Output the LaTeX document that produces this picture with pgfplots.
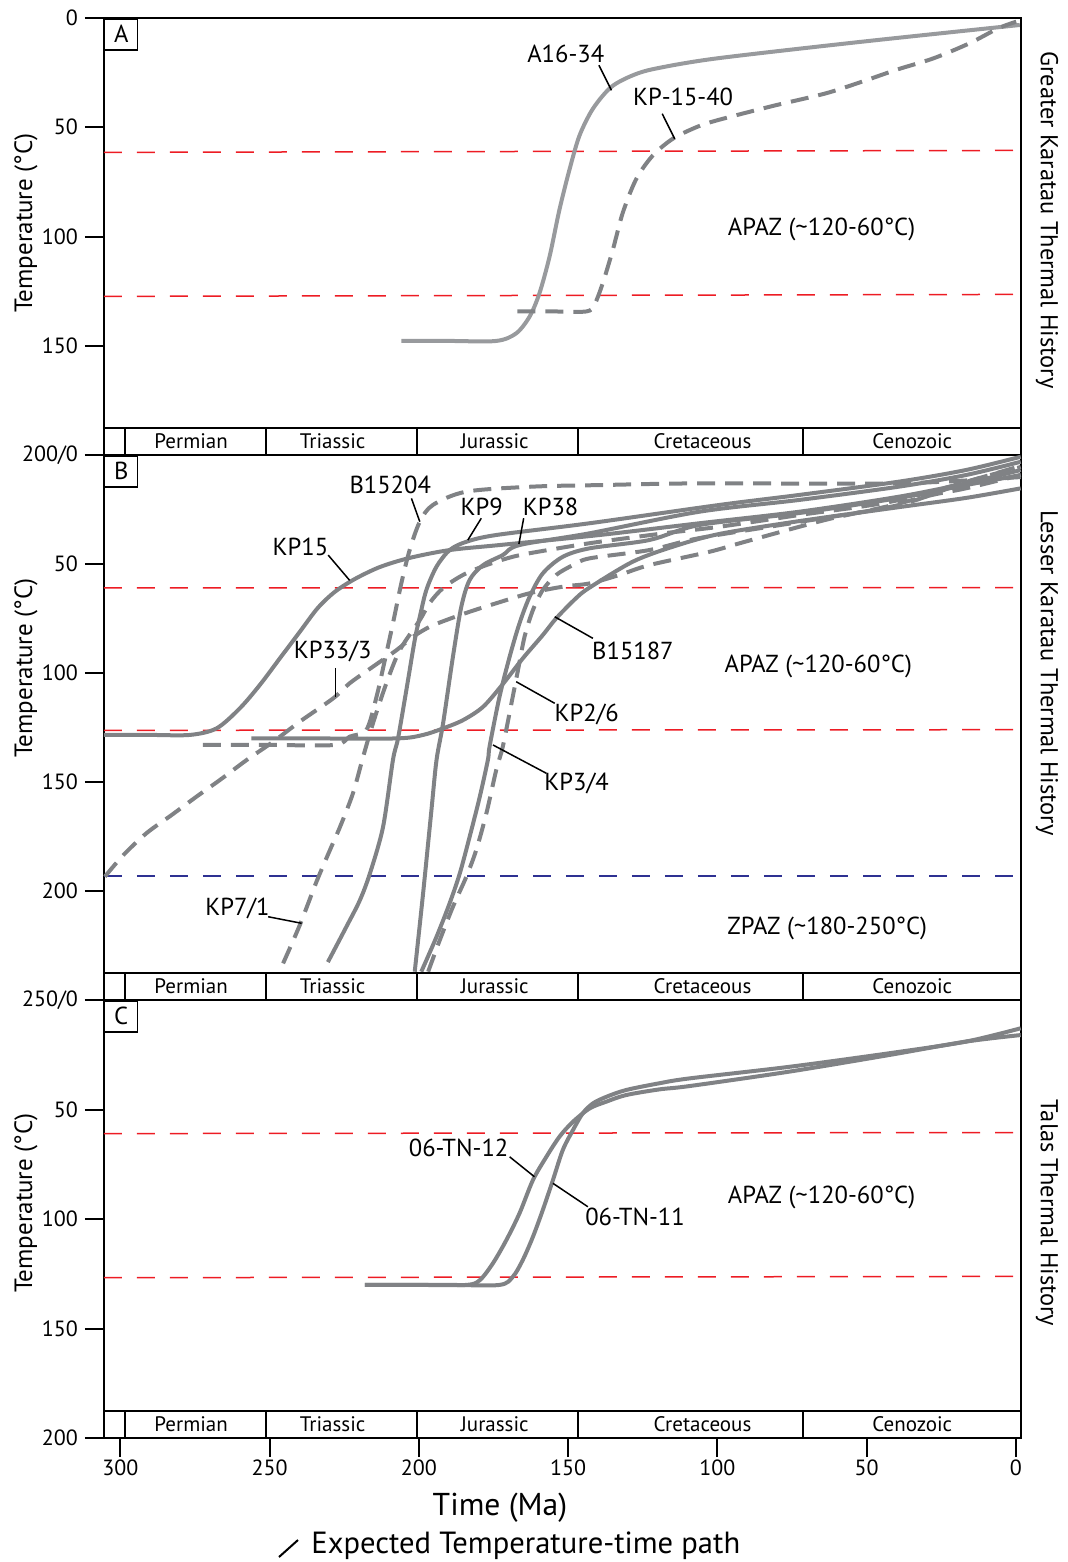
\documentclass[border=0pt]{standalone}
\usepackage{fontspec}
\setmainfont{PT Sans}
\usepackage{pgfplots}
\pgfplotsset{compat=1.18}

\definecolor{cgray}{RGB}{128,130,133}
\definecolor{cgrayl}{RGB}{152,154,157}
\definecolor{cred}{RGB}{237,28,36}
\definecolor{cblue}{RGB}{46,49,146}

\newcommand\lbl{\fontsize{12.3}{14}\selectfont}
\newcommand\per{\fontsize{10.5}{12}\selectfont}
\newcommand\side{\fontsize{12.2}{14}\selectfont}

\pgfplotsset{
 panel/.style={
   scale only axis, width=458.5pt, anchor=north west,
   x dir=reverse, y dir=reverse,
   xmin=-1.7, xmax=305.5,
   axis line style={line width=1pt},
   clip=false,
   tick align=outside, tick pos=left,
   major tick length=9.5pt,
   tick style={black, line width=1pt},
   ticklabel style={font=\fontsize{11}{13}\selectfont},
   xticklabel style={yshift=2pt},
   /pgf/number format/assume math mode=true,
   xtick=\empty,
 },
}
\tikzset{
 solidc/.style={cgray, line width=2pt, smooth, tension=0.5},
 dashc/.style={cgray, line width=2pt, smooth, tension=0.5, dash pattern=on 9pt off 5pt},
 redl/.style={cred, line width=0.75pt, dash pattern=on 9pt off 7.5pt},
 bluel/.style={cblue, line width=0.75pt, dash pattern=on 9pt off 7.5pt},
 leader/.style={black, line width=0.75pt},
 pbox/.style={draw, line width=0.75pt, anchor=north west, minimum width=16.5pt, minimum height=15.5pt, inner sep=0pt, font=\lbl},
}

\newcommand\band[2]{%
\draw[line width=1pt] (axis cs:305.5,#1) -- (axis cs:-1.7,#1);
\draw[line width=1pt] (axis cs:298.6,#1) -- (axis cs:298.6,#2);
\draw[line width=1pt] (axis cs:251.1,#1) -- (axis cs:251.1,#2);
\draw[line width=1pt] (axis cs:200.7,#1) -- (axis cs:200.7,#2);
\draw[line width=1pt] (axis cs:146.6,#1) -- (axis cs:146.6,#2);
\draw[line width=1pt] (axis cs:71.3,#1) -- (axis cs:71.3,#2);
}

\begin{document}
\begin{tikzpicture}
\useasboundingbox (-52pt,9pt) rectangle (481.5pt,-772pt);

%================ PANEL A =================
\begin{axis}[panel, at={(0pt,0pt)}, height=218.5pt, ymin=0, ymax=200,
  ytick={0,50,100,150,200}, yticklabels={0,50,100,150,200/0}]
\addplot[redl, no marks] coordinates {(305.5,61.5) (-1.7,60.6)};
\addplot[redl, no marks] coordinates {(305.5,127.4) (-1.7,126.5)};
% A16-34
\addplot[solidc, cgrayl, no marks] coordinates {(205.9,147.8)(190,147.8)(174.1,147.8)(167.4,144.3)(162.9,136.6)(159.6,125.9)(156.2,109.0)(152.9,87.6)(149.5,69.1)(146.2,53.8)(141.7,41.5)(135.6,31.6)(128.3,26.2)(120.5,23.1)(100.3,18.5)(51.9,10.9)(-1.3,3.2)};
% KP-15-40
\addplot[dashc, no marks] coordinates {(167.0,134.3)(155,134.3)(143.9,134.3)(141.2,131.2)(138.4,121.3)(135.0,105.9)(131.7,89.1)(127.2,73.7)(121.7,63.0)(115.0,55.3)(107.1,50.0)(100.3,46.9)(82.2,40.5)(64.0,34.6)(51.9,29.3)(39.8,23.6)(27.7,18.5)(15.6,11.6)(5.9,4.7)(-0.1,1.7)};
\band{187.6}{200}
\node[font=\per] at (axis cs:276.3,193.8) {Permian};
\node[font=\per] at (axis cs:228.9,193.8) {Triassic};
\node[font=\per] at (axis cs:174.6,193.8) {Jurassic};
\node[font=\per] at (axis cs:105.0,193.8) {Cretaceous};
\node[font=\per] at (axis cs:34.7,193.8) {Cenozoic};
\node[pbox] at (axis cs:305.5,0) {A};
% labels
\node[font=\lbl] at (axis cs:150.8,16.6) {A16-34};
\draw[leader] (axis cs:139.7,21.6) -- (axis cs:135.5,33.1);
\node[font=\lbl] at (axis cs:111.5,36.3) {KP-15-40};
\draw[leader] (axis cs:118.5,43.8) -- (axis cs:114.3,55.3);
\node[font=\lbl] at (axis cs:65.1,96.6) {APAZ (\textasciitilde120-60°C)};
\end{axis}

%================ PANEL B =================
\begin{axis}[panel, at={(0pt,-218.5pt)}, height=272.5pt, ymin=0, ymax=250,
  ytick={0,50,100,150,200,250}, yticklabels={,50,100,150,200,250/0}]
\addplot[redl, no marks] coordinates {(305.5,61.0) (-1.7,60.8)};
\addplot[redl, no marks] coordinates {(305.5,126.3) (-1.7,126.0)};
\addplot[bluel, no marks] coordinates {(305.5,193.1) (-1.7,193.1)};
% KP15
\addplot[solidc, no marks] coordinates {(305.5,128.4)(290,128.4)(276.7,128.4)(267.8,125.4)(260.0,116.2)(253.3,105.5)(246.6,93.3)(239.9,81.1)(233.9,70.2)(228.2,62.8)(221.5,56.9)(213.1,51.4)(203.1,47.2)(189.7,43.6)(173.0,41.3)(139.5,36.7)(106.0,31.3)(72.5,26.0)(39.1,19.1)(16.8,13.0)(-1.6,6.9)};
% KP9
\addplot[solidc, no marks] coordinates {(230.5,232.6)(224.3,216.4)(219.8,204.3)(216.4,191.9)(212.0,170.5)(208.7,139.9)(207.0,130.0)(204.2,107.8)(201.4,84.9)(199.7,74.2)(197.5,61.9)(194.1,51.2)(189.7,43.6)(184.1,39.8)(174.1,36.7)(142.8,31.3)(99.3,22.9)(72.5,18.3)(39.1,12.2)(16.8,6.9)(-1.6,0.8)};
% KP38
\addplot[solidc, no marks] coordinates {(201.4,237.0)(198.6,201.1)(195.8,162.8)(194.1,139.9)(191.9,123.1)(188.6,92.5)(185.8,69.6)(183.0,57.3)(178.5,50.5)(171.9,45.9)(166.3,41.3)(142.8,35.9)(106.0,26.0)(72.5,20.6)(39.1,14.5)(16.8,9.2)(-1.6,3.1)};
% KP3/4
\addplot[solidc, no marks] coordinates {(199.2,237.0)(194.1,221.0)(189.7,205.6)(186.3,191.9)(183.0,175.1)(179.6,156.7)(176.9,139.9)(176.3,133.5)(173.0,110.9)(169.6,92.5)(166.3,77.2)(162.9,65.0)(158.5,54.3)(151.8,46.7)(142.8,42.8)(122.8,39.0)(106.0,32.1)(72.5,26.6)(39.1,19.7)(16.8,13.8)(-1.6,9.2)};
% KP2/6
\addplot[dashc, no marks] coordinates {(196.9,237.0)(193.0,222.5)(188.6,207.2)(184.1,193.4)(180.8,181.2)(177.4,164.4)(174.1,144.5)(171.9,133.8)(169.0,113.9)(166.8,98.6)(164.6,83.3)(161.8,71.1)(158.5,61.9)(154.0,55.0)(148.4,50.5)(142.8,47.4)(122.8,43.6)(106.0,38.1)(72.5,30.7)(39.1,22.9)(16.8,12.4)(-1.6,5.5)};
% B15187
\addplot[solidc, no marks] coordinates {(256.1,130.0)(238,130.0)(207.5,130.0)(198.6,128.4)(191.9,125.4)(185.2,121.6)(178.5,115.5)(171.9,105.1)(165.2,93.3)(158.5,82.6)(154.0,74.9)(147.3,65.6)(142.8,60.8)(128.3,48.9)(115.0,42.1)(99.3,36.2)(72.5,30.3)(39.1,23.9)(16.8,19.7)(-1.6,15.3)};
% B15204
\addplot[dashc, no marks] coordinates {(272.4,133.0)(250,133.0)(228.2,133.0)(223.2,129.2)(217.6,126.1)(214.2,110.9)(211.4,94.0)(208.7,77.2)(205.9,58.9)(203.1,43.6)(199.7,30.6)(195.3,22.9)(184.1,16.8)(161.8,14.5)(139.5,13.8)(106.0,13.0)(39.1,13.0)(-1.6,10.1)};
% KP7/1
\addplot[dashc, no marks] coordinates {(245.5,233.2)(239.9,215.6)(234.3,195.7)(229.8,181.2)(226.4,170.5)(222.1,155.2)(218.7,138.5)(215.4,123.1)(210.9,104.7)(206.4,89.5)(199.7,75.7)(196.4,67.9)(191.9,61.0)(185.2,55.0)(177.4,50.5)(167.4,46.3)(152.9,42.7)(139.5,39.8)(117.2,35.8)(99.3,32.9)(72.5,27.5)(39.1,20.6)(-1.6,5.0)};
% KP33/3
\addplot[dashc, no marks] coordinates {(305.2,193.4)(299.0,183.5)(291.2,173.4)(282.8,165.1)(274.5,156.7)(266.7,149.1)(257.7,139.9)(248.8,131.5)(239.9,122.3)(228.7,111.6)(223.2,104.7)(215.4,97.1)(207.5,89.5)(202.0,83.4)(196.4,78.8)(190.8,75.7)(183.0,71.9)(174.1,68.0)(162.9,63.4)(151.8,60.4)(142.8,58.9)(132.8,55.0)(122.8,50.5)(102.7,44.4)(92.6,40.5)(82.6,36.7)(72.5,32.9)(61.5,29.0)(43.5,23.7)(28.0,18.3)(16.8,15.3)(-1.6,9.2)};
\band{237.6}{250}
\node[font=\per] at (axis cs:276.3,243.8) {Permian};
\node[font=\per] at (axis cs:228.9,243.8) {Triassic};
\node[font=\per] at (axis cs:174.6,243.8) {Jurassic};
\node[font=\per] at (axis cs:105.0,243.8) {Cretaceous};
\node[font=\per] at (axis cs:34.7,243.8) {Cenozoic};
\node[pbox] at (axis cs:305.5,0) {B};
% labels
\node[font=\lbl] at (axis cs:209.6,13.8) {B15204};
\draw[leader] (axis cs:202.5,19.9) -- (axis cs:199.7,30.6);
\node[font=\lbl] at (axis cs:179.0,23.9) {KP9};
\draw[leader] (axis cs:179.1,29.0) -- (axis cs:183.6,39.0);
\node[font=\lbl] at (axis cs:155.9,23.9) {KP38};
\draw[leader] (axis cs:164.9,29.0) -- (axis cs:166.5,40.8);
\node[font=\lbl] at (axis cs:239.7,42.2) {KP15};
\draw[leader] (axis cs:230.4,45.9) -- (axis cs:223.2,57.5);
\node[font=\lbl] at (axis cs:228.9,89.9) {KP33/3};
\draw[leader] (axis cs:227.9,97.7) -- (axis cs:227.9,111.0);
\node[font=\lbl] at (axis cs:128.3,89.9) {B15187};
\draw[leader] (axis cs:154.5,74.2) -- (axis cs:141.7,84.1);
\node[font=\lbl] at (axis cs:143.8,118.8) {KP2/6};
\draw[leader] (axis cs:167.4,104.0) -- (axis cs:154.5,113.9);
\node[font=\lbl] at (axis cs:147.2,150.5) {KP3/4};
\draw[leader] (axis cs:175.2,133.0) -- (axis cs:157.3,146.0);
\node[font=\lbl] at (axis cs:260.8,207.8) {KP7/1};
\draw[leader] (axis cs:250.5,211.8) -- (axis cs:239.3,214.8);
\node[font=\lbl] at (axis cs:66.2,96.8) {APAZ (\textasciitilde120-60°C)};
\node[font=\lbl] at (axis cs:63.2,217.0) {ZPAZ (\textasciitilde180-250°C)};
\end{axis}

%================ PANEL C =================
\begin{axis}[panel, at={(0pt,-491pt)}, height=219pt, ymin=0, ymax=200,
  ytick={0,50,100,150,200}, yticklabels={,50,100,150,200},
  xtick={0,50,100,150,200,250,300}]
\addplot[redl, no marks] coordinates {(305.5,61.0) (-1.7,60.5)};
\addplot[redl, no marks] coordinates {(305.5,126.8) (-1.7,126.2)};
% 06-TN-12
\addplot[solidc, no marks] coordinates {(218.1,130.1)(200,130.1)(184.1,130.1)(179.6,127.9)(175.2,120.2)(170.7,109.6)(166.3,97.4)(161.8,82.2)(157.3,71.6)(152.9,62.4)(148.4,55.6)(142.8,49.5)(137.2,46.4)(130.6,43.4)(119.4,40.8)(109.4,39.3)(75.9,32.7)(42.4,25.1)(16.8,19.0)(-1.6,16.0)};
% 06-TN-11
\addplot[solidc, no marks] coordinates {(218.1,130.1)(190,130.1)(173.0,130.1)(168.5,126.3)(165.2,118.7)(161.8,108.1)(158.5,95.9)(155.1,82.2)(151.8,68.5)(148.4,59.4)(145.1,51.7)(141.7,47.2)(137.2,44.2)(130.6,41.1)(119.4,38.0)(109.4,35.8)(75.9,30.5)(42.4,24.3)(16.8,19.0)(-1.6,12.9)};
\band{187.7}{200}
\node[font=\per] at (axis cs:276.3,193.8) {Permian};
\node[font=\per] at (axis cs:228.9,193.8) {Triassic};
\node[font=\per] at (axis cs:174.6,193.8) {Jurassic};
\node[font=\per] at (axis cs:105.0,193.8) {Cretaceous};
\node[font=\per] at (axis cs:34.7,193.8) {Cenozoic};
\node[pbox] at (axis cs:305.5,0) {C};
% labels
\node[font=\lbl] at (axis cs:186.7,67.6) {06-TN-12};
\draw[leader] (axis cs:169.6,71.6) -- (axis cs:161.3,80.7);
\node[font=\lbl] at (axis cs:127.6,99.1) {06-TN-11};
\draw[leader] (axis cs:143.4,94.4) -- (axis cs:155.1,83.7);
\node[font=\lbl] at (axis cs:65.1,90.0) {APAZ (\textasciitilde120-60°C)};
\end{axis}

% outside texts
\node[rotate=90, font=\fontsize{12.5}{14}\selectfont] at (-39pt,-102.5pt) {Temperature (°C)};
\node[rotate=90, font=\fontsize{12.5}{14}\selectfont] at (-39pt,-325pt) {Temperature (°C)};
\node[rotate=90, font=\fontsize{12.5}{14}\selectfont] at (-39pt,-592.5pt) {Temperature (°C)};
\node[rotate=-90, font=\side] at (471.5pt,-101pt) {Greater Karatau Thermal History};
\node[rotate=-90, font=\side] at (471.5pt,-327.5pt) {Lesser Karatau Thermal History};
\node[rotate=-90, font=\side] at (471.5pt,-597.5pt) {Talas Thermal History};
\node[font=\fontsize{15.8}{18}\selectfont] at (198pt,-745pt) {Time (Ma)};
\draw[line width=1pt] (87.5pt,-769.5pt) -- (97pt,-761pt);
\node[anchor=west, inner sep=0pt, font=\fontsize{15.3}{18}\selectfont] at (103.5pt,-764pt) {Expected Temperature-time path};
\end{tikzpicture}
\end{document}
